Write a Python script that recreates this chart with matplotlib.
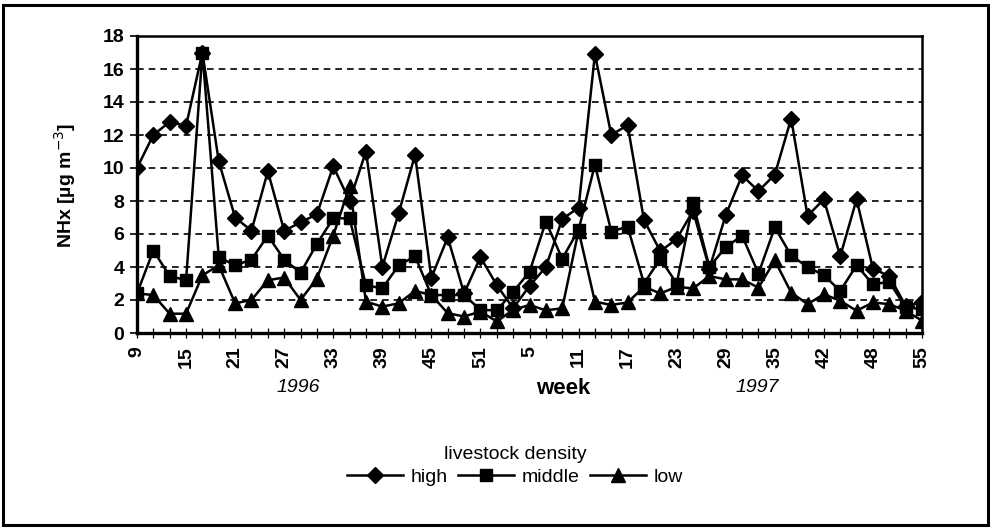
import numpy as np
import matplotlib.pyplot as plt
from matplotlib.patches import Rectangle

plt.rcParams['font.family'] = ['Liberation Sans', 'DejaVu Sans']

# biweekly sampling, 1996 week 9 -> 1997 week 55, labelled every third sample
week_labels = ['9', '15', '21', '27', '33', '39', '45', '51', '5',
               '11', '17', '23', '29', '35', '42', '48', '55']

high = [10.0, 12.0, 12.8, 12.55, 17.0, 10.4, 7.0, 6.2, 9.8, 6.2, 6.7, 7.2,
        10.1, 8.0, 11.0, 4.0, 7.25, 10.8, 3.35, 5.8, 2.4, 4.6, 2.9, 1.5,
        2.85, 4.0, 6.9, 7.6, 16.9, 12.0, 12.6, 6.85, 4.95, 5.7, 7.4, 3.9,
        7.15, 9.55, 8.6, 9.6, 13.0, 7.1, 8.1, 4.65, 8.1, 3.9, 3.45, 1.65, 1.85]

middle = [2.4, 5.0, 3.45, 3.2, 17.0, 4.6, 4.1, 4.45, 5.9, 4.45, 3.65, 5.4,
          6.95, 6.95, 2.9, 2.7, 4.1, 4.65, 2.3, 2.3, 2.3, 1.4, 1.37, 2.5,
          3.7, 6.75, 4.5, 6.25, 10.2, 6.15, 6.45, 3.0, 4.5, 3.0, 7.85, 4.0,
          5.2, 5.9, 3.6, 6.4, 4.7, 4.0, 3.5, 2.55, 4.1, 2.95, 3.1, 1.55, 1.45]

low = [2.4, 2.3, 1.17, 1.17, 3.5, 4.1, 1.8, 2.0, 3.2, 3.36, 2.0, 3.3,
       5.9, 8.9, 1.9, 1.6, 1.8, 2.55, 2.3, 1.2, 1.0, 1.3, 0.7, 1.4,
       1.7, 1.37, 1.5, 6.2, 1.9, 1.7, 1.85, 2.8, 2.4, 2.8, 2.7, 3.45,
       3.25, 3.25, 2.75, 4.4, 2.45, 1.75, 2.35, 1.95, 1.35, 1.85, 1.75, 1.35, 0.75]

x = np.arange(len(high))

fig = plt.figure(figsize=(9.93, 5.28), dpi=100)
ax = fig.add_axes([137 / 993, 1 - 333 / 528, (922 - 137) / 993, (333 - 36) / 528])

for yv in range(2, 18, 2):
    ax.axhline(yv, color='black', lw=1.2, ls=(0, (4, 3)), zorder=1)

ax.plot(x, high, color='black', lw=1.8, marker='D', ms=8, label='high', zorder=3)
ax.plot(x, middle, color='black', lw=1.8, marker='s', ms=9, label='middle', zorder=4)
ax.plot(x, low, color='black', lw=1.8, marker='^', ms=9.5, label='low', zorder=5)

ax.set_xlim(0, len(high) - 1)
ax.set_ylim(0, 18)
ax.set_yticks(range(0, 19, 2))
ax.set_xticks(range(0, len(high), 3))
ax.set_xticklabels(week_labels, rotation=90)
ax.set_xticks(x, minor=True)
ax.tick_params(axis='y', labelsize=14, length=5, width=1.2, pad=4)
ax.tick_params(axis='x', which='both', direction='inout', length=7, width=0.9)
ax.tick_params(axis='x', labelsize=14, pad=6)
for lab in ax.get_xticklabels() + ax.get_yticklabels():
    lab.set_fontweight('bold')

for side in ['left', 'bottom']:
    ax.spines[side].set_linewidth(2.4)
for side in ['top', 'right']:
    ax.spines[side].set_linewidth(1.8)

fig.text(65 / 993, 1 - 185 / 528, 'NHx [µg m$^{-3}$]', rotation=90, ha='center',
         va='center', fontsize=14, fontweight='bold')
fig.text(298 / 993, 1 - 388 / 528, '1996', ha='center', va='center',
         fontsize=14, style='italic')
fig.text(563 / 993, 1 - 388 / 528, 'week', ha='center', va='center',
         fontsize=16, fontweight='bold')
fig.text(757 / 993, 1 - 388 / 528, '1997', ha='center', va='center',
         fontsize=14, style='italic')

leg = fig.legend(loc='center', bbox_to_anchor=(515 / 993, 1 - 467 / 528),
                 ncol=3, frameon=False, fontsize=14, title='livestock density',
                 title_fontsize=14, handlelength=2.9, handletextpad=0.4,
                 columnspacing=0.5, borderpad=0.2, labelspacing=0.2)
leg.get_title().set_y(2)

fig.patches.append(Rectangle((3 / 993, 3 / 528), 985 / 993, 520 / 528,
                             transform=fig.transFigure, fill=False,
                             edgecolor='black', lw=2.2))

fig.savefig('out.png', dpi=100)
